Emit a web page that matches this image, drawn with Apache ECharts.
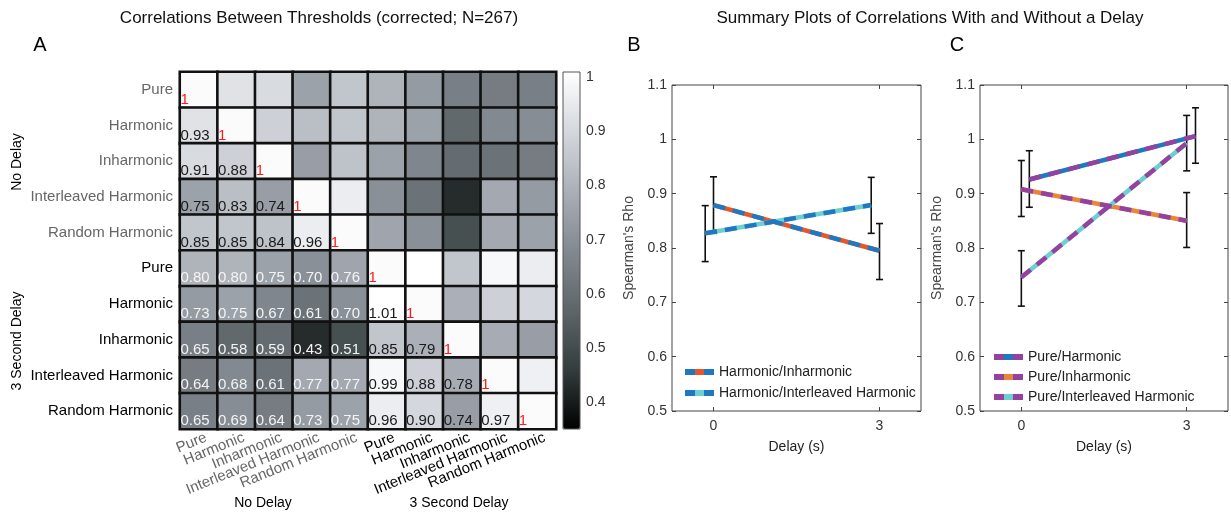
<!DOCTYPE html>
<html>
<head>
<meta charset="utf-8">
<script src="https://cdn.jsdelivr.net/npm/echarts@6/dist/echarts.min.js"></script>
<style>
  body { margin: 0; background: #fff; }
  #chart { width: 1231px; height: 515px; }
</style>
</head>
<body>
<div id="chart"></div>
<script>
// 条件名称（上：无延迟，下：3秒延迟）
var conds = ['Pure', 'Harmonic', 'Inharmonic', 'Interleaved Harmonic', 'Random Harmonic'];
var groupNames = ['No Delay', '3 Second Delay'];
// 相关矩阵下三角（对称）
var lower = [
  [],
  [0.93],
  [0.91, 0.88],
  [0.75, 0.83, 0.74],
  [0.85, 0.85, 0.84, 0.96],
  [0.80, 0.80, 0.75, 0.70, 0.76],
  [0.73, 0.75, 0.67, 0.61, 0.70, 1.01],
  [0.65, 0.58, 0.59, 0.43, 0.51, 0.85, 0.79],
  [0.64, 0.68, 0.61, 0.77, 0.77, 0.99, 0.88, 0.78],
  [0.65, 0.69, 0.64, 0.73, 0.75, 0.96, 0.90, 0.74, 0.97]
];
var colorbarTicks = [0.4, 0.5, 0.6, 0.7, 0.8, 0.9, 1];
var delayTicks = [0, 3];

// B 图
var bNames = ['Harmonic/Inharmonic', 'Harmonic/Interleaved Harmonic'];
var bX = [[0, 3], [-0.15, 2.85]];
var bY = [[0.879, 0.795], [0.827, 0.879]];
var bLo = [[0.827, 0.742], [0.775, 0.827]];
var bHi = [[0.931, 0.845], [0.878, 0.930]];
// C 图
var cNames = ['Pure/Harmonic', 'Pure/Inharmonic', 'Pure/Interleaved Harmonic'];
var cX = [[0.145, 3.16], [0, 3], [0, 3]];
var cY = [[0.926, 1.006], [0.908, 0.850], [0.746, 0.993]];
var cLo = [[0.875, 0.956], [0.858, 0.801], [0.693, 0.942]];
var cHi = [[0.979, 1.058], [0.961, 0.902], [0.795, 1.044]];

var BLUE = '#1f78c1', PURPLE = '#9441a0', CYAN = '#6dcfd0';
var bColors = ['#e5562a', CYAN];
var cColors = [BLUE, '#e8873a', CYAN];
var FONT = '"Liberation Sans", Arial, Helvetica, sans-serif';

var labels = conds.concat(conds);
var cats = labels.map(function (d, i) { return String(i); });

// 热图数据
var heat = [];
for (var i = 0; i < 10; i++) {
  for (var j = 0; j < 10; j++) {
    var v = i === j ? 1 : (i > j ? lower[i][j] : lower[j][i]);
    var col = '#1a1a1a';
    if (i === j) col = '#ff1a1a';
    else if (i >= 5 && j <= 4) col = '#f4f4f4';
    heat.push({ value: [j, i, v], label: { show: i >= j, color: col } });
  }
}

function stripe(a, b) {
  return new echarts.graphic.LinearGradient(0, 0, 1, 0, [
    { offset: 0, color: a }, { offset: 0.33, color: a },
    { offset: 0.33, color: b }, { offset: 0.67, color: b },
    { offset: 0.67, color: a }, { offset: 1, color: a }
  ]);
}

function errorBar(params, api) {
  var x = api.value(0);
  var p1 = api.coord([x, api.value(1)]);
  var p2 = api.coord([x, api.value(2)]);
  var w = 3.5, st = { stroke: '#111', lineWidth: 1.6 };
  return {
    type: 'group',
    children: [
      { type: 'line', shape: { x1: p1[0], y1: p1[1], x2: p2[0], y2: p2[1] }, style: st },
      { type: 'line', shape: { x1: p1[0] - w, y1: p1[1], x2: p1[0] + w, y2: p1[1] }, style: st },
      { type: 'line', shape: { x1: p2[0] - w, y1: p2[1], x2: p2[0] + w, y2: p2[1] }, style: st }
    ]
  };
}

function pts(xs, ys) { return xs.map(function (x, k) { return [x, ys[k]]; }); }
function errs(xs, lo, hi) { return xs.map(function (x, k) { return [x, lo[k], hi[k]]; }); }

var series = [{
  type: 'heatmap',
  xAxisIndex: 0, yAxisIndex: 0,
  data: heat,
  itemStyle: { borderColor: '#111', borderWidth: 2.6 },
  label: {
    position: 'insideBottomLeft', distance: 2,
    fontSize: 15, fontFamily: FONT,
    formatter: function (p) {
      return p.value[0] === p.value[1] ? '1' : p.value[2].toFixed(2);
    }
  },
  emphasis: { disabled: true }
}];

// 折线 + 误差棒
function addPanel(names, xs, ys, lo, hi, colors, dashColor, xi, yi) {
  names.forEach(function (n, k) {
    series.push({
      type: 'custom', xAxisIndex: xi, yAxisIndex: yi, z: 2,
      renderItem: errorBar, encode: { x: 0, y: [1, 2] },
      data: errs(xs[k], lo[k], hi[k]), silent: true
    });
  });
  names.forEach(function (n, k) {
    series.push({
      type: 'line', name: n, xAxisIndex: xi, yAxisIndex: yi, z: 3,
      data: pts(xs[k], ys[k]), symbol: 'none', color: colors[k],
      lineStyle: { color: colors[k], width: 4.5 }, silent: true
    });
    series.push({
      type: 'line', name: n + ' dash', xAxisIndex: xi, yAxisIndex: yi, z: 4,
      data: pts(xs[k], ys[k]), symbol: 'none',
      lineStyle: { color: dashColor, width: 4.5, type: [12, 8] }, silent: true
    });
  });
}
addPanel(bNames, bX, bY, bLo, bHi, bColors, BLUE, 2, 2);
addPanel(cNames, cX, cY, cLo, cHi, cColors, PURPLE, 4, 4);

var axisGray = '#444';
function delayAxis(grid, top) {
  return {
    type: 'value', gridIndex: grid, position: top ? 'top' : 'bottom',
    min: -0.75, max: 3.75,
    name: top ? '' : 'Delay (s)', nameLocation: 'middle', nameGap: 29,
    nameTextStyle: { fontSize: 14, color: '#222', fontFamily: FONT },
    axisLine: { show: false, onZero: false }, splitLine: { show: false },
    axisTick: { show: true, inside: true, length: 4, customValues: delayTicks, lineStyle: { color: axisGray } },
    axisLabel: { show: !top, customValues: delayTicks, fontSize: 14, color: '#333', margin: 8 }
  };
}
function rhoAxis(grid, right) {
  return {
    type: 'value', gridIndex: grid, position: right ? 'right' : 'left',
    min: 0.5, max: 1.1, interval: 0.1,
    name: right ? '' : "Spearman's Rho", nameLocation: 'middle', nameGap: 36, nameRotate: 90,
    nameTextStyle: { fontSize: 14, color: '#444', fontFamily: FONT },
    axisLine: { show: false, onZero: false }, splitLine: { show: false },
    axisTick: { show: true, inside: true, length: 4, lineStyle: { color: axisGray } },
    axisLabel: { show: !right, fontSize: 14, color: '#333', margin: 5 }
  };
}
function catColor(v, idx) {
  var n = typeof idx === 'number' ? idx : +v;
  return n < 5 ? '#666' : '#000';
}

var option = {
  animation: false,
  textStyle: { fontFamily: FONT },
  grid: [
    { left: 180, top: 72, width: 376, height: 357 },
    { left: 563, top: 72, width: 17, height: 357, show: true, z: 10,
      backgroundColor: 'transparent', borderColor: '#555', borderWidth: 1 },
    { left: 672, top: 85, width: 249, height: 326, show: true,
      borderColor: axisGray, borderWidth: 1 },
    { left: 980, top: 85, width: 248, height: 326, show: true,
      borderColor: axisGray, borderWidth: 1 }
  ],
  xAxis: [
    { type: 'category', gridIndex: 0, data: cats,
      axisLine: { show: false }, axisTick: { show: false },
      axisLabel: { rotate: 22, fontSize: 15, margin: 11, interval: 0, padding: [0, -8, 0, 0],
        formatter: function (v) { return labels[+v]; },
        color: function (v, idx) { return catColor(v, idx); } } },
    { type: 'value', gridIndex: 1, show: false },
    delayAxis(2, false), delayAxis(2, true),
    delayAxis(3, false), delayAxis(3, true)
  ],
  yAxis: [
    { type: 'category', gridIndex: 0, data: cats, inverse: true,
      axisLine: { show: false }, axisTick: { show: false },
      axisLabel: { fontSize: 15, margin: 7, interval: 0,
        formatter: function (v) { return labels[+v]; },
        color: function (v, idx) { return catColor(v, idx); } } },
    { type: 'value', gridIndex: 1, position: 'right', min: 0.35, max: 1.01,
      axisLine: { show: false, onZero: false }, splitLine: { show: false },
      axisTick: { show: true, inside: true, length: 3, customValues: colorbarTicks, lineStyle: { color: '#555' } },
      axisLabel: { customValues: colorbarTicks, fontSize: 14, color: '#333', margin: 6,
        formatter: function (v) { return String(+(+v).toFixed(2)); } } },
    rhoAxis(2, false), rhoAxis(2, true),
    rhoAxis(3, false), rhoAxis(3, true)
  ],
  visualMap: {
    type: 'continuous', seriesIndex: 0, dimension: 2,
    min: 0.35, max: 1.01, calculable: false, hoverLink: false,
    left: 563, top: 72, itemWidth: 17, itemHeight: 357, padding: 0,
    inRange: { color: ['#000000', '#343d3d', '#5e666a', '#838990', '#abb0b8', '#d4d7dd', '#ffffff'] }
  },
  legend: [
    { left: 680, top: 360, orient: 'vertical', icon: 'rect', itemWidth: 29, itemHeight: 6,
      itemGap: 7, textStyle: { fontSize: 14, color: '#222' }, selectedMode: false,
      data: bNames.map(function (n, k) { return { name: n, itemStyle: { color: stripe(BLUE, bColors[k]) } }; }) },
    { left: 989, top: 345, orient: 'vertical', icon: 'rect', itemWidth: 29, itemHeight: 6,
      itemGap: 6, textStyle: { fontSize: 14, color: '#222' }, selectedMode: false,
      data: cNames.map(function (n, k) { return { name: n, itemStyle: { color: stripe(PURPLE, cColors[k]) } }; }) }
  ],
  graphic: [
    { type: 'text', x: 319, y: 18, style: { text: 'Correlations Between Thresholds (corrected; N=267)', fontSize: 17, fontFamily: FONT, fill: '#111', align: 'center', verticalAlign: 'middle' } },
    { type: 'text', x: 930, y: 18, style: { text: 'Summary Plots of Correlations With and Without a Delay', fontSize: 17, fontFamily: FONT, fill: '#111', align: 'center', verticalAlign: 'middle' } },
    { type: 'text', x: 40, y: 45, style: { text: 'A', fontSize: 20, fontFamily: FONT, fill: '#000', align: 'center', verticalAlign: 'middle' } },
    { type: 'text', x: 634, y: 45, style: { text: 'B', fontSize: 20, fontFamily: FONT, fill: '#000', align: 'center', verticalAlign: 'middle' } },
    { type: 'text', x: 957, y: 45, style: { text: 'C', fontSize: 20, fontFamily: FONT, fill: '#000', align: 'center', verticalAlign: 'middle' } },
    { type: 'text', x: 17, y: 162, rotation: Math.PI / 2, style: { text: groupNames[0], fontSize: 14, fontFamily: FONT, fill: '#000', align: 'center', verticalAlign: 'middle' } },
    { type: 'text', x: 17, y: 341, rotation: Math.PI / 2, style: { text: groupNames[1], fontSize: 14, fontFamily: FONT, fill: '#000', align: 'center', verticalAlign: 'middle' } },
    { type: 'text', x: 263, y: 503, style: { text: groupNames[0], fontSize: 14, fontFamily: FONT, fill: '#000', align: 'center', verticalAlign: 'middle' } },
    { type: 'text', x: 459, y: 503, style: { text: groupNames[1], fontSize: 14, fontFamily: FONT, fill: '#000', align: 'center', verticalAlign: 'middle' } }
  ],
  series: series
};

var myChart = echarts.init(document.getElementById('chart'));
myChart.setOption(option);
</script>
</body>
</html>
